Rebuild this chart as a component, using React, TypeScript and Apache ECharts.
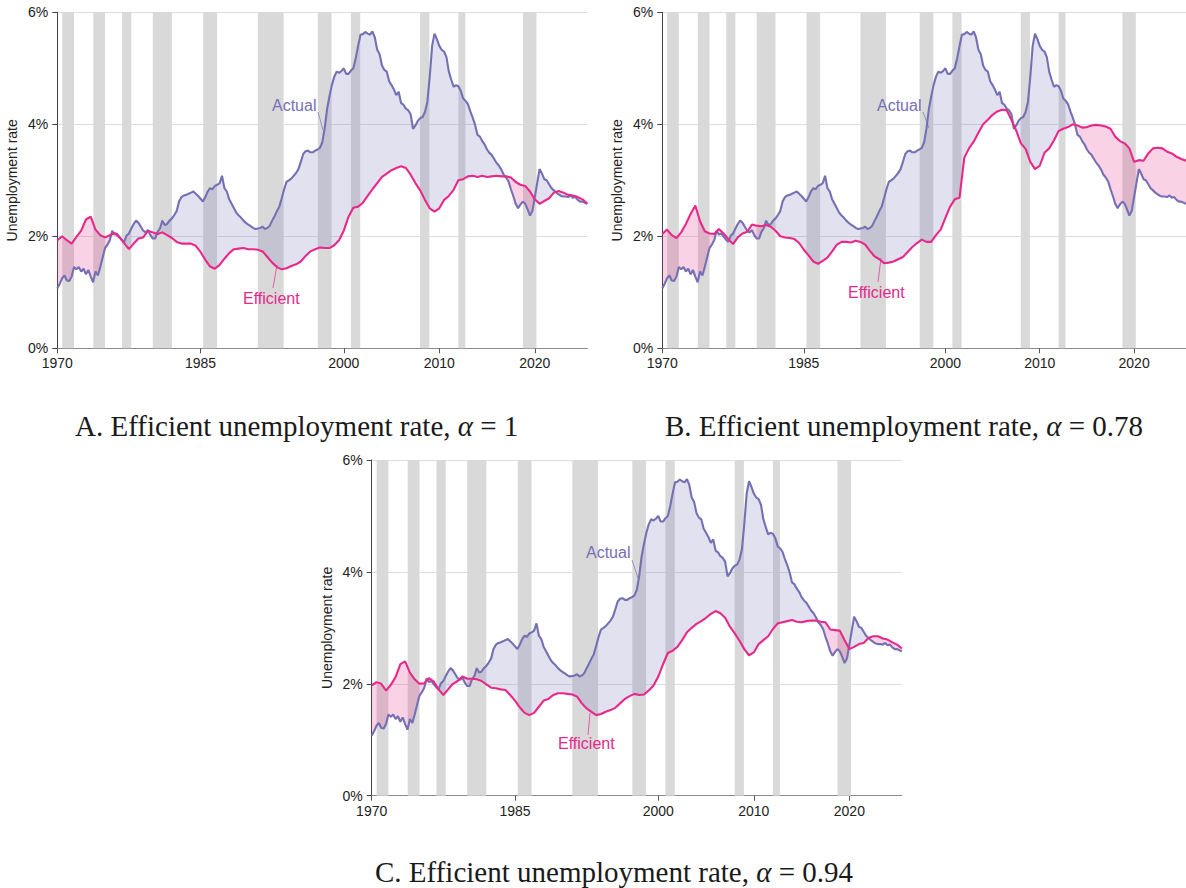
import React, { useEffect, useRef } from "react";
import * as echarts from "echarts";

// ---------- DATA ----------
const START_YEAR = 1970;
const END_YEAR = 2025.5;

// Actual unemployment measure, quarterly from 1970.0 to 2025.5 (percent)
const actualRate = [
  1.07, 1.15, 1.25, 1.3,
  1.21, 1.2, 1.28, 1.45,
  1.41, 1.45, 1.37, 1.42,
  1.32, 1.4, 1.28, 1.18,
  1.37, 1.3, 1.45, 1.62,
  1.79, 1.85, 1.93, 2.1,
  2.03, 2.05, 1.99, 1.94,
  1.9, 2.01, 2.05, 2.14,
  2.22, 2.28, 2.24, 2.17,
  2.1, 2.07, 2.11, 2.02,
  1.96, 1.96, 2.08, 2.14,
  2.28, 2.2, 2.22, 2.28,
  2.32, 2.38, 2.45, 2.62,
  2.7, 2.73, 2.74, 2.76,
  2.78, 2.8, 2.76, 2.72,
  2.67, 2.62, 2.7, 2.8,
  2.86, 2.84, 2.9, 2.92,
  2.95, 3.08, 2.86, 2.8,
  2.66, 2.58, 2.5, 2.42,
  2.37, 2.33, 2.28, 2.24,
  2.21, 2.18, 2.15, 2.13,
  2.14, 2.15, 2.17, 2.13,
  2.15, 2.19, 2.28, 2.36,
  2.45, 2.53, 2.68, 2.84,
  2.97, 3.0, 3.03, 3.08,
  3.13, 3.2, 3.33, 3.47,
  3.52, 3.53, 3.5, 3.5,
  3.53, 3.55, 3.58, 3.68,
  3.93, 4.27, 4.5, 4.7,
  4.85, 4.94, 4.92, 4.95,
  5.0, 4.9, 4.9, 4.96,
  5.0, 5.18, 5.4, 5.6,
  5.61, 5.65, 5.62, 5.6,
  5.66, 5.55, 5.33, 5.25,
  5.05, 4.97, 4.94, 4.77,
  4.7, 4.62, 4.52, 4.58,
  4.38, 4.35, 4.28, 4.25,
  4.18, 3.92, 3.98, 4.06,
  4.11, 4.13, 4.22, 4.4,
  4.85, 5.4, 5.62, 5.52,
  5.4, 5.33, 5.3, 5.2,
  4.94, 4.8, 4.67, 4.7,
  4.68, 4.6, 4.46, 4.42,
  4.36, 4.23, 4.12, 3.99,
  3.81, 3.78, 3.7, 3.64,
  3.55, 3.49, 3.45, 3.38,
  3.31, 3.26, 3.19, 3.1,
  3.05, 2.98, 2.84, 2.72,
  2.58, 2.5, 2.57, 2.62,
  2.58, 2.48, 2.37, 2.45,
  2.7, 2.95, 3.2, 3.12,
  3.02, 3.0, 2.93, 2.86,
  2.82, 2.78, 2.75, 2.72,
  2.71, 2.71, 2.7, 2.73,
  2.69, 2.7, 2.65, 2.62,
  2.62, 2.6, 2.58,
];

// Efficient unemployment rates, half-yearly from 1970.0 to 2025.5 (percent)
const efficientAlpha1 = [
  1.93, 2.0, 1.93, 1.87, 1.99, 2.1, 2.3, 2.35, 2.12, 2.02,
  1.98, 2.02, 2.06, 1.98, 1.88, 1.77, 1.87, 1.96, 1.98, 2.1,
  2.07, 2.04, 2.07, 2.02, 1.97, 1.9, 1.87, 1.87, 1.87, 1.83,
  1.72, 1.58, 1.46, 1.42, 1.49, 1.6, 1.7, 1.77, 1.78, 1.79,
  1.77, 1.77, 1.76, 1.73, 1.63, 1.53, 1.45, 1.41, 1.43, 1.47,
  1.5, 1.55, 1.65, 1.73, 1.77, 1.8, 1.79, 1.79, 1.84, 1.93,
  2.1, 2.35, 2.51, 2.53, 2.6, 2.72, 2.84, 2.95, 3.06, 3.12,
  3.18, 3.22, 3.25, 3.22, 3.1, 2.95, 2.82, 2.65, 2.5, 2.44,
  2.5, 2.65, 2.72, 2.83, 3.0, 3.02, 3.07, 3.08, 3.06, 3.08,
  3.06, 3.07, 3.08, 3.07, 3.07, 3.05, 2.97, 2.92, 2.9, 2.8,
  2.66, 2.58, 2.63, 2.68, 2.78, 2.81, 2.78, 2.74, 2.73, 2.7,
  2.66, 2.58,
];

const efficientAlpha078 = [
  2.04, 2.12, 2.02, 1.97, 2.07, 2.22, 2.4, 2.55, 2.27, 2.09,
  2.05, 2.04, 2.13, 2.05, 1.95, 1.86, 1.98, 2.05, 2.08, 2.21,
  2.19, 2.18, 2.2, 2.17, 2.1, 2.0, 1.98, 1.97, 1.95, 1.88,
  1.76, 1.66, 1.55, 1.51, 1.56, 1.62, 1.73, 1.85, 1.9, 1.9,
  1.89, 1.92, 1.9, 1.85, 1.74, 1.64, 1.59, 1.52, 1.53, 1.55,
  1.59, 1.63, 1.72, 1.81, 1.88, 1.94, 1.9, 1.9, 2.02, 2.12,
  2.33, 2.53, 2.66, 2.69, 3.4, 3.57, 3.69, 3.85, 4.0, 4.08,
  4.17, 4.23, 4.26, 4.25, 4.08, 3.89, 3.66, 3.56, 3.33, 3.2,
  3.26, 3.49, 3.57, 3.71, 3.88, 3.92, 3.95, 4.0, 3.98, 3.94,
  3.95, 3.98, 3.99, 3.98, 3.96, 3.92, 3.78, 3.7, 3.66, 3.57,
  3.33, 3.36, 3.35, 3.48, 3.57, 3.58, 3.57, 3.51, 3.48, 3.42,
  3.38, 3.35,
];

const efficientAlpha094 = [
  1.97, 2.03, 2.0, 1.88, 1.98, 2.12, 2.35, 2.4, 2.2, 2.08,
  2.0, 2.01, 2.1, 2.04, 1.9, 1.8, 1.9, 2.0, 2.05, 2.13,
  2.09, 2.09, 2.08, 2.05, 1.99, 1.93, 1.92, 1.9, 1.89, 1.8,
  1.7, 1.58, 1.48, 1.44, 1.48, 1.59, 1.7, 1.73, 1.8, 1.83,
  1.83, 1.82, 1.81, 1.77, 1.65, 1.56, 1.5, 1.44, 1.46, 1.5,
  1.53, 1.57, 1.65, 1.73, 1.78, 1.82, 1.8, 1.81, 1.88, 1.97,
  2.13, 2.35, 2.55, 2.59, 2.66, 2.78, 2.92, 3.0, 3.07, 3.12,
  3.18, 3.25, 3.3, 3.26, 3.18, 3.02, 2.9, 2.77, 2.62, 2.51,
  2.56, 2.71, 2.78, 2.85, 2.98, 3.08, 3.1, 3.12, 3.14, 3.11,
  3.1, 3.12, 3.13, 3.13, 3.11, 3.1, 2.97, 2.96, 2.95, 2.78,
  2.62, 2.66, 2.71, 2.73, 2.82, 2.85, 2.85, 2.81, 2.79, 2.74,
  2.7, 2.63,
];

// Shaded periods (start year, end year)
const shadedPeriods = [
  [1970.52, 1971.75],
  [1973.77, 1975.0],
  [1976.78, 1977.75],
  [1980.0, 1982.0],
  [1985.28, 1986.73],
  [1991.0, 1993.7],
  [1997.28, 1998.72],
  [2000.74, 2001.72],
  [2007.99, 2008.96],
  [2012.0, 2012.73],
  [2018.76, 2020.18],
];

const xTickYears = [1970, 1985, 2000, 2010, 2020];

const panelTitlePrefix = ["A", "B", "C"];
const panelAlphas = ["1", "0.78", "0.94"];
const titleText = "Efficient unemployment rate,";
const seriesNames = ["Actual", "Efficient"];
const yAxisName = "Unemployment rate";

// ---------- STYLE / LAYOUT ----------
const PURPLE = "#7570b3";
const PINK = "#e7298a";
const PURPLE_FILL = "rgba(117,112,179,0.21)";
const PINK_FILL = "rgba(231,41,138,0.21)";
const SANS = "'Liberation Sans', Arial, Helvetica, sans-serif";
const SERIF = "'Liberation Serif', 'Times New Roman', serif";

const grids = [
  { left: 57.3, top: 12.3, width: 530, height: 336 },
  { left: 662.3, top: 12.3, width: 530.6, height: 336 },
  { left: 371.7, top: 460, width: 530.2, height: 335.7 },
];

const titlePos = [
  [75, 426],
  [665, 426],
  [375, 872],
];

const labelLayout = [
  { a: [272, 105], al: [318, 112, 323, 130], e: [243, 298], el: [277, 265, 273, 288] },
  { a: [877, 105], al: [923, 112, 929, 128], e: [848, 292], el: [881, 258, 878, 282] },
  { a: [586, 552], al: [632, 560, 638, 578], e: [558, 743], el: [590, 713, 588, 735] },
];

type Pt = [number, number];

function toPairs(vals: number[], step: number): Pt[] {
  return vals.map((v, i) => [START_YEAR + i * step, v] as Pt);
}

function valueAt(pairs: Pt[], x: number): number {
  for (let i = 0; i < pairs.length - 1; i++) {
    if (x <= pairs[i + 1][0]) {
      const [x0, y0] = pairs[i];
      const [x1, y1] = pairs[i + 1];
      const t = (x - x0) / (x1 - x0);
      return y0 + t * (y1 - y0);
    }
  }
  return pairs[pairs.length - 1][1];
}

function buildRegions(actual: Pt[], eff: Pt[]) {
  const regions: { sign: number; pts: Pt[] }[] = [];
  let cur: { sign: number; top: Pt[]; bot: Pt[] } | null = null;
  let prev: { x: number; a: number; e: number } | null = null;
  for (const [x, a] of actual) {
    if (x > END_YEAR) break;
    const e = valueAt(eff, x);
    const d = a - e;
    const s = d >= 0 ? 1 : -1;
    if (!cur) {
      cur = { sign: s, top: [[x, a]], bot: [[x, e]] };
    } else if (s === cur.sign) {
      cur.top.push([x, a]);
      cur.bot.push([x, e]);
    } else if (prev) {
      const d0 = prev.a - prev.e;
      const t = d0 / (d0 - d);
      const xc = prev.x + t * (x - prev.x);
      const yc = prev.a + t * (a - prev.a);
      cur.top.push([xc, yc]);
      cur.bot.push([xc, yc]);
      regions.push({ sign: cur.sign, pts: cur.top.concat(cur.bot.slice().reverse()) });
      cur = { sign: s, top: [[xc, yc], [x, a]], bot: [[xc, yc], [x, e]] };
    }
    prev = { x, a, e };
  }
  if (cur) regions.push({ sign: cur.sign, pts: cur.top.concat(cur.bot.slice().reverse()) });
  return regions;
}

export default function App() {
  const ref = useRef<HTMLDivElement>(null);

  useEffect(() => {
    if (!ref.current) return;
    const chart = echarts.init(ref.current, undefined, { renderer: "svg" });

    const actualPairs = toPairs(actualRate, 0.25);
    const effSets = [efficientAlpha1, efficientAlpha078, efficientAlpha094].map((v) => toPairs(v, 0.5));

    const xAxis: any[] = [];
    const yAxis: any[] = [];
    const series: any[] = [];
    const graphic: any[] = [];

    grids.forEach((g, i) => {
      xAxis.push({
        type: "value",
        gridIndex: i,
        min: START_YEAR,
        max: END_YEAR,
        axisLine: { show: true, onZero: false, lineStyle: { color: "#8a8a8a", width: 1 } },
        axisTick: { show: true, customValues: xTickYears, length: 5, lineStyle: { color: "#555" } },
        axisLabel: {
          show: true,
          customValues: xTickYears,
          formatter: (v: number) => String(v),
          fontSize: 14,
          color: "#222",
          margin: 8,
          fontFamily: SANS,
        },
        splitLine: { show: false },
      });
      yAxis.push({
        type: "value",
        gridIndex: i,
        min: 0,
        max: 6,
        interval: 2,
        axisLine: { show: true, lineStyle: { color: "#444", width: 1 } },
        axisTick: { show: true, length: 5, lineStyle: { color: "#444" } },
        axisLabel: { formatter: "{value}%", fontSize: 14, color: "#222", margin: 9, fontFamily: SANS },
        splitLine: { show: true, lineStyle: { color: "#dedede", width: 1 } },
        name: yAxisName,
        nameLocation: "middle",
        nameGap: 38,
        nameTextStyle: { fontSize: 14, color: "#222", fontFamily: SANS },
      });

      series.push({
        type: "custom",
        xAxisIndex: i,
        yAxisIndex: i,
        silent: true,
        z: 1,
        data: shadedPeriods,
        encode: { x: [0, 1] },
        renderItem: (params: any, api: any) => {
          const s = api.coord([api.value(0), 0]);
          const e = api.coord([api.value(1), 0]);
          const cs = params.coordSys;
          return {
            type: "rect",
            shape: { x: s[0], y: cs.y, width: e[0] - s[0], height: cs.height },
            style: { fill: "#d9d9d9" },
          };
        },
      });

      const regions = buildRegions(actualPairs, effSets[i]);
      series.push({
        type: "custom",
        xAxisIndex: i,
        yAxisIndex: i,
        silent: true,
        z: 2,
        data: regions.map((r) => [r.pts[0][0], r.pts[0][1]]),
        encode: { x: 0, y: 1 },
        renderItem: (params: any, api: any) => {
          const r = regions[params.dataIndex];
          const points = r.pts.map((p) => api.coord(p));
          return {
            type: "polygon",
            shape: { points },
            style: { fill: r.sign > 0 ? PURPLE_FILL : PINK_FILL },
          };
        },
      });

      series.push({
        type: "line",
        name: seriesNames[0],
        xAxisIndex: i,
        yAxisIndex: i,
        data: actualPairs,
        showSymbol: false,
        symbol: "none",
        z: 3,
        lineStyle: { color: PURPLE, width: 2.1 },
        itemStyle: { color: PURPLE },
      });
      series.push({
        type: "line",
        name: seriesNames[1],
        xAxisIndex: i,
        yAxisIndex: i,
        data: effSets[i],
        showSymbol: false,
        symbol: "none",
        z: 4,
        lineStyle: { color: PINK, width: 2.1 },
        itemStyle: { color: PINK },
      });

      const L = labelLayout[i];
      graphic.push(
        {
          type: "text",
          z: 100,
          x: L.a[0],
          y: L.a[1],
          style: { text: seriesNames[0], fill: PURPLE, font: `16px ${SANS}`, align: "left", verticalAlign: "middle" },
        },
        {
          type: "line",
          z: 100,
          shape: { x1: L.al[0], y1: L.al[1], x2: L.al[2], y2: L.al[3] },
          style: { stroke: PURPLE, lineWidth: 0.7 },
        },
        {
          type: "text",
          z: 100,
          x: L.e[0],
          y: L.e[1],
          style: { text: seriesNames[1], fill: PINK, font: `16px ${SANS}`, align: "left", verticalAlign: "middle" },
        },
        {
          type: "line",
          z: 100,
          shape: { x1: L.el[0], y1: L.el[1], x2: L.el[2], y2: L.el[3] },
          style: { stroke: PINK, lineWidth: 0.7 },
        },
        {
          type: "text",
          z: 100,
          x: titlePos[i][0],
          y: titlePos[i][1],
          style: {
            text: `{n|${panelTitlePrefix[i]}. ${titleText} }{i|\u03b1}{n| = ${panelAlphas[i]}}`,
            align: "left",
            verticalAlign: "middle",
            rich: {
              n: { fontSize: 29, fontFamily: SERIF, fill: "#1a1a1a", color: "#1a1a1a" },
              i: { fontSize: 29, fontFamily: SERIF, fontStyle: "italic", fill: "#1a1a1a", color: "#1a1a1a" },
            },
          },
        }
      );
    });

    chart.setOption({
      animation: false,
      backgroundColor: "#ffffff",
      grid: grids.map((g) => ({ ...g, containLabel: false })),
      xAxis,
      yAxis,
      series,
      graphic,
    });

    return () => chart.dispose();
  }, []);

  return (
    <div
      ref={ref}
      style={{ position: "fixed", left: 0, top: 0, width: 1186, height: 888, background: "#fff" }}
    />
  );
}
